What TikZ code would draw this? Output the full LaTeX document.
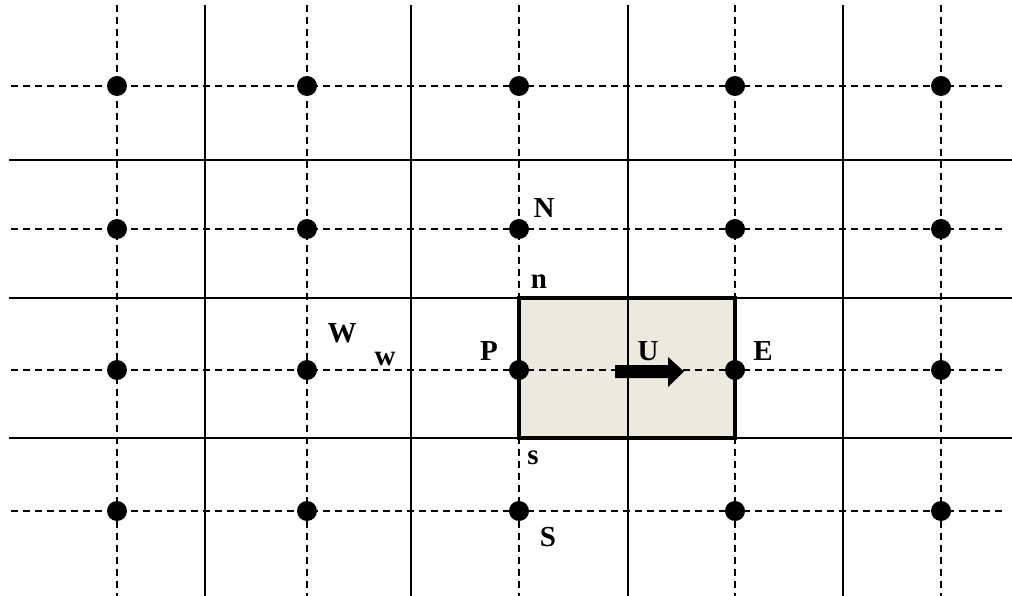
\documentclass[tikz,border=0pt]{standalone}
\usepackage{fontspec}
\setmainfont{Liberation Serif}
\begin{document}
\begin{tikzpicture}[x=1pt,y=-1pt,
  solidline/.style={line width=1.8pt,black},
  dashline/.style={line width=1.7pt,black,dash pattern=on 7pt off 5pt},
  dot/.style={circle,fill=black,minimum size=20pt,inner sep=0pt},
  lbl/.style={font=\fontsize{29}{29}\selectfont\bfseries,inner sep=0pt},
  cellbox/.style={line width=4pt,black,line join=miter}]
\definecolor{cellfill}{RGB}{236,233,223}
\useasboundingbox (0,0) rectangle (1012,596);
% control volume fill
\fill[cellfill] (519,298) rectangle (735,438);
% solid grid
\foreach \x in {205,411,628,843} \draw[solidline] (\x,5) -- (\x,596);
\foreach \y in {160,298,438} \draw[solidline] (9,\y) -- (1012,\y);
% dashed grid
\foreach \x in {117,307,519,735,941} \draw[dashline] (\x,5) -- (\x,596);
\foreach \y in {86,229,370,511} \draw[dashline] (11,\y) -- (1005,\y);
% control volume border
\draw[cellbox] (519,298) rectangle (735,438);
% dots
\foreach \x/\i in {117/1,307/2,519/3,735/4,941/5}
  \foreach \y/\j in {86/1,229/2,370/3,511/4}
    \node[dot] (d\i\j) at (\x,\y) {};
% arrow U
\fill[black] (615,365) -- (668,365) -- (668,357) -- (684,371.5) -- (668,387) -- (668,378) -- (615,378) -- cycle;
% labels
\node[lbl] (N) at (544,208) {N};
\node[lbl] (n) at (539,282) {n};
\node[lbl] (W) at (342,333) {W};
\node[lbl] (w) at (385,359) {w};
\node[lbl] (P) at (489,351) {P};
\node[lbl] (U) at (648,351) {U};
\node[lbl] (E) at (763,351) {E};
\node[lbl] (s) at (533,458) {s};
\node[lbl] (S) at (548,537) {S};
\end{tikzpicture}
\end{document}
